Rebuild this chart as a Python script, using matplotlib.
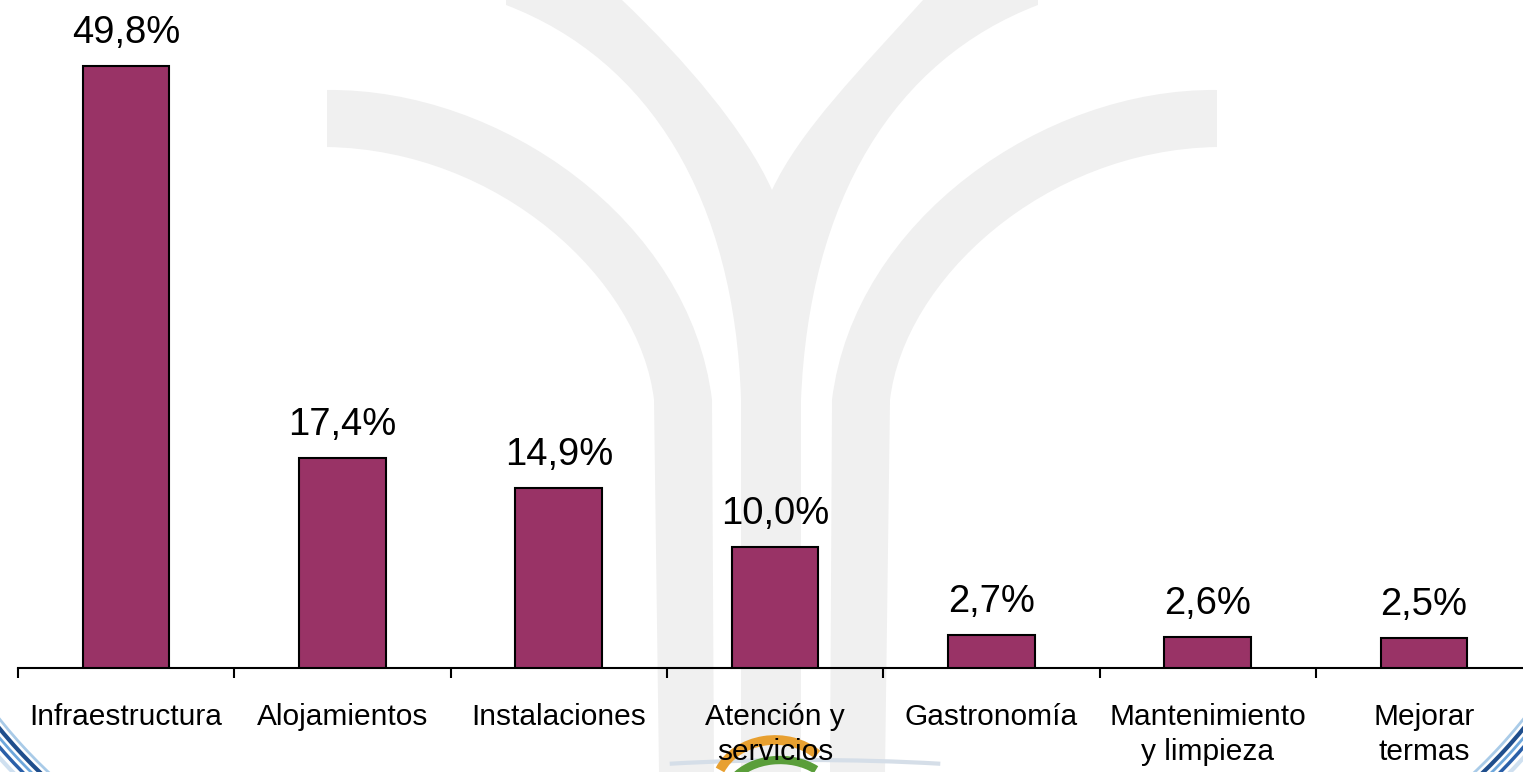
import matplotlib
matplotlib.use("Agg")
import matplotlib.pyplot as plt
from matplotlib.path import Path
from matplotlib.patches import PathPatch, Arc

plt.rcParams['font.family'] = ['Liberation Sans', 'DejaVu Sans']

categories = ["Infraestructura", "Alojamientos", "Instalaciones", "Atención y\nservicios",
              "Gastronomía", "Mantenimiento\ny limpieza", "Mejorar\ntermas"]
values = [49.8, 17.4, 14.9, 10.0, 2.7, 2.6, 2.5]
value_labels = [f"{v:.1f}".replace(".", ",") + "%" for v in values]

W, H = 1523, 772
fig = plt.figure(figsize=(W / 100, H / 100), dpi=100)
fig.patch.set_facecolor("white")

# ---- background watermark (decorative) ----
bg = fig.add_axes([0, 0, 1, 1], zorder=0)
bg.set_xlim(0, W)
bg.set_ylim(H, 0)
bg.axis("off")
grey = "#f0f0f0"

def arch(mirror=False):
    pts = [(327, 90), (500, 88), (690, 220), (712, 400), (714, 772), (659, 772),
           (654, 400), (640, 280), (500, 150), (327, 147), (327, 90)]
    codes = [Path.MOVETO, Path.CURVE4, Path.CURVE4, Path.CURVE4, Path.LINETO, Path.LINETO,
             Path.LINETO, Path.CURVE4, Path.CURVE4, Path.CURVE4, Path.CLOSEPOLY]
    if mirror:
        pts = [(1544 - x, y) for x, y in pts]
    return Path(pts, codes)

for m in (False, True):
    bg.add_patch(PathPatch(arch(m), facecolor=grey, edgecolor="none"))

ypts = [(506, 5), (650, 60), (735, 200), (741, 400), (741, 772), (801, 772), (801, 400),
        (809, 200), (894, 60), (1038, 5), (1038, 0), (923, 0),
        (860, 70), (800, 130), (772, 190), (745, 130), (685, 60), (622, 0), (506, 0), (506, 5)]
ycodes = [Path.MOVETO, Path.CURVE4, Path.CURVE4, Path.CURVE4, Path.LINETO, Path.LINETO, Path.LINETO,
          Path.CURVE4, Path.CURVE4, Path.CURVE4, Path.LINETO, Path.LINETO,
          Path.CURVE4, Path.CURVE4, Path.CURVE4, Path.CURVE4, Path.CURVE4, Path.CURVE4, Path.LINETO,
          Path.CLOSEPOLY]
bg.add_patch(PathPatch(Path(ypts, ycodes), facecolor=grey, edgecolor="none"))

# corner swooshes of the logo frame
for r, c, lw in [(512, "#a9cbe8", 2), (518, "#1f4e8c", 3), (524, "#6fa8dc", 2),
                 (530, "#2a5fa8", 2.5), (537, "#cfe0f0", 3)]:
    bg.add_patch(Arc((400, 400), 2 * r, 2 * r, theta1=125, theta2=150, color=c, lw=lw))
    bg.add_patch(Arc((1123, 400), 2 * r, 2 * r, theta1=30, theta2=55, color=c, lw=lw))
# central logo hint
bg.add_patch(Arc((805, 800), 640, 80, theta1=195, theta2=345, color="#d5dee8", lw=3))
bg.add_patch(Arc((775, 790), 120, 100, theta1=200, theta2=320, color="#e8a030", lw=7))
bg.add_patch(Arc((780, 800), 110, 80, theta1=205, theta2=320, color="#5a9e3a", lw=6))

# ---- main chart ----
ax_left = 18 / W
ax_bottom = (H - 668) / H
ax_width = 7 * 216.3 / W
ax = fig.add_axes([ax_left, ax_bottom, ax_width, 1 - ax_bottom], zorder=1)
ax.patch.set_alpha(0)

x = list(range(len(categories)))
ax.bar(x, values, width=0.4, color="#993366", edgecolor="black", linewidth=1.5, zorder=3)

for xi, v, lab in zip(x, values, value_labels):
    ax.annotate(lab, xy=(xi, v), xytext=(0, 16.5), textcoords="offset points",
                ha="center", va="baseline", fontsize=27.5, color="black")

ax.set_xlim(-0.5, len(categories) - 0.5)
ax.set_ylim(0, 668 / 12.09)

for s in ["top", "right", "left"]:
    ax.spines[s].set_visible(False)
ax.spines["bottom"].set_linewidth(1.5)
ax.set_yticks([])

ax.set_xticks(x)
ax.set_xticklabels(categories, fontsize=21.5, linespacing=1.35, va="top")
ax.tick_params(axis="x", which="major", length=0, pad=25)
ax.set_xticks([i - 0.5 for i in range(len(categories) + 1)], minor=True)
ax.tick_params(axis="x", which="minor", length=7.5, width=1.5, direction="out")

fig.savefig("out.png", dpi=100, facecolor="white")
